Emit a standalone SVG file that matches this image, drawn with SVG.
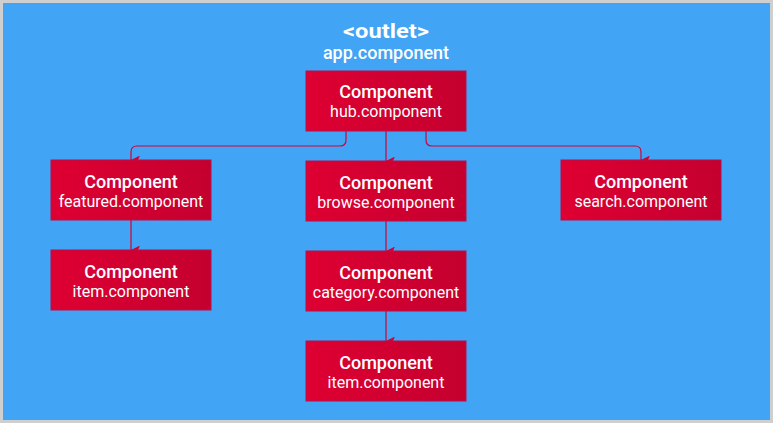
<svg xmlns="http://www.w3.org/2000/svg" width="773" height="423" viewBox="0 0 773 423">
<defs>
<linearGradient id="g" x1="0" y1="0" x2="1" y2="0">
<stop offset="0" stop-color="#DE0032"/>
<stop offset="1" stop-color="#C4002F"/>
</linearGradient>
<marker id="arr" markerWidth="9" markerHeight="9" refX="4.5" refY="9" orient="auto-start-reverse" markerUnits="userSpaceOnUse" viewBox="0 0 9 9">
<path d="M0,0 L4.5,2 L9,0 L4.5,9 Z" fill="#D50032"/>
</marker>
</defs>
<style>
.box{fill:url(#g);stroke:#B8104A;stroke-width:1}
.t1{font-family:Roboto,"Liberation Sans",sans-serif;font-weight:500;font-size:18px;fill:#fff;text-anchor:middle}
.t2{font-family:Roboto,"Liberation Sans",sans-serif;font-weight:400;font-size:16px;fill:#fff;text-anchor:middle}
.c{fill:none;stroke:#D50032;stroke-width:1.2;marker-end:url(#arr)}
</style>
<rect x="0" y="0" width="773" height="423" fill="#CFCFCF"/>
<rect x="3" y="3" width="767" height="417" fill="#42A4F4"/>
<g id="app">
<text x="386" y="38" font-family="Roboto,'Liberation Sans',sans-serif" font-weight="700" font-size="20" textLength="86" lengthAdjust="spacingAndGlyphs" fill="#fff" text-anchor="middle">&lt;outlet&gt;</text>
<text x="386" y="59" class="t1">app.component</text>
</g>
<g id="connectors">
<path class="c" d="M346,131 V140 Q346,146 340,146 H137 Q131,146 131,152 V160"/>
<path class="c" d="M386,131 V161"/>
<path class="c" d="M426,131 V140 Q426,146 432,146 H635 Q641,146 641,152 V160"/>
<path class="c" d="M131,220 V250"/>
<path class="c" d="M386,221 V251"/>
<path class="c" d="M386,311 V341"/>
</g>
<g id="hub"><rect class="box" x="306" y="71" width="160" height="60"/><text class="t1" x="386" y="98">Component</text><text class="t2" x="386" y="117">hub.component</text></g>
<g id="featured"><rect class="box" x="51" y="160" width="160" height="60"/><text class="t1" x="131" y="188">Component</text><text class="t2" x="131" y="207">featured.component</text></g>
<g id="browse"><rect class="box" x="306" y="161" width="160" height="60"/><text class="t1" x="386" y="189">Component</text><text class="t2" x="386" y="208">browse.component</text></g>
<g id="search"><rect class="box" x="561" y="160" width="160" height="60"/><text class="t1" x="641" y="188">Component</text><text class="t2" x="641" y="207">search.component</text></g>
<g id="item1"><rect class="box" x="51" y="250" width="160" height="60"/><text class="t1" x="131" y="278">Component</text><text class="t2" x="131" y="297">item.component</text></g>
<g id="category"><rect class="box" x="306" y="251" width="160" height="60"/><text class="t1" x="386" y="279">Component</text><text class="t2" x="386" y="298">category.component</text></g>
<g id="item2"><rect class="box" x="306" y="341" width="160" height="60"/><text class="t1" x="386" y="369">Component</text><text class="t2" x="386" y="388">item.component</text></g>
</svg>
